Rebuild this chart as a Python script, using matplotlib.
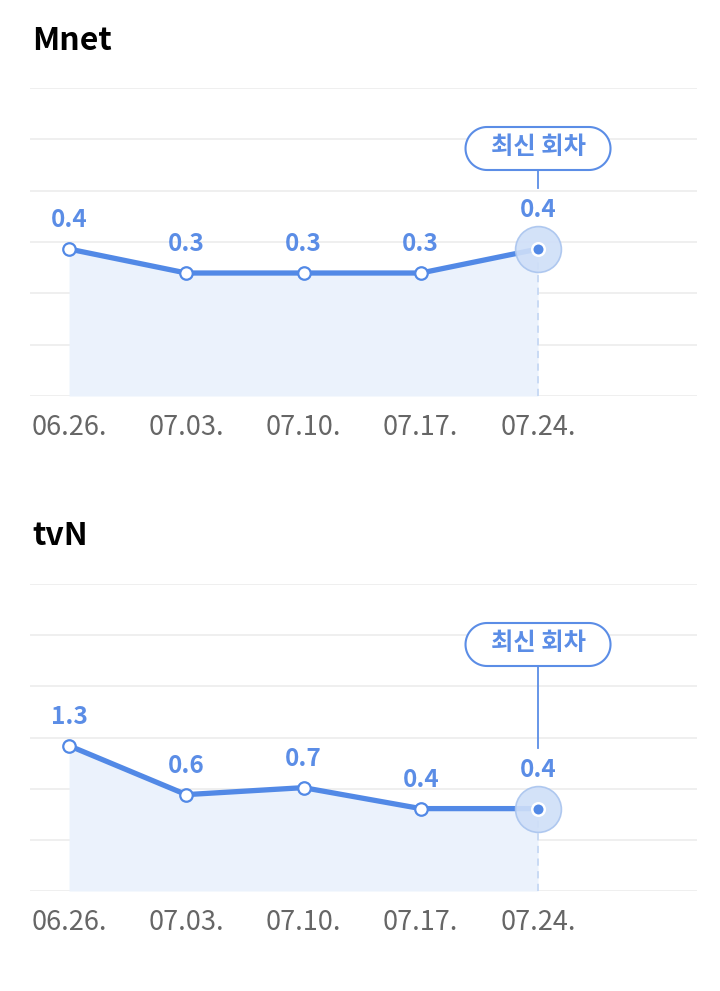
import matplotlib
matplotlib.use("Agg")
import matplotlib.pyplot as plt
import numpy as np
from matplotlib.patches import Polygon
from matplotlib.transforms import blended_transform_factory, IdentityTransform

plt.rcParams['font.family'] = ['Noto Sans CJK KR', 'DejaVu Sans']

# ---- data ----
dates = ["06.26.", "07.03.", "07.10.", "07.17.", "07.24."]
mnet_values = [0.4, 0.3, 0.3, 0.3, 0.4]
tvn_values = [1.3, 0.6, 0.7, 0.4, 0.4]
channels = ["Mnet", "tvN"]
latest_label = "최신 회차"

BLUE = "#5289E6"
LABEL_BLUE = "#5B8DE6"
FILL = "#EBF2FC"
GRID = "#EEEEEE"

W, H = 720, 991
fig = plt.figure(figsize=(W / 100, H / 100), dpi=100)


def px_axes(left, top, right, bottom):
    return fig.add_axes([left / W, 1 - bottom / H, (right - left) / W, (bottom - top) / H])


def pill(cx, cy, w, h):
    r = h / 2
    t1 = np.linspace(-np.pi / 2, np.pi / 2, 40)
    t2 = np.linspace(np.pi / 2, 3 * np.pi / 2, 40)
    right = np.column_stack([cx + w / 2 - r + r * np.cos(t1), cy + r * np.sin(t1)])
    left = np.column_stack([cx - w / 2 + r + r * np.cos(t2), cy + r * np.sin(t2)])
    return np.vstack([right, left])


def draw_panel(title, values, ylim, top_px, bottom_px, title_base):
    ax = px_axes(30, top_px, 697, bottom_px)
    x = np.arange(len(values))
    ax.set_xlim(-0.333, 5.356)
    ax.set_ylim(*ylim)
    ax.set_yticks(np.linspace(ylim[0], ylim[1], 7))
    ax.set_yticklabels([])
    ax.tick_params(axis='y', length=0)
    ax.grid(axis='y', color=GRID, linewidth=1.3, zorder=0)
    ax.set_axisbelow(True)
    for s in ax.spines.values():
        s.set_visible(False)
    ax.set_xticks(x)
    ax.set_xticklabels(dates, fontsize=19.5, color="#666666")
    ax.tick_params(axis='x', length=0, pad=13)

    ax.fill_between(x, values, ylim[0], color=FILL, linewidth=0, zorder=1)
    ax.plot(x, values, color=BLUE, linewidth=3.8, zorder=3, solid_capstyle='round')
    ax.plot(x[:-1], values[:-1], linestyle='none', marker='o', markersize=9,
            markerfacecolor='white', markeredgecolor=BLUE, markeredgewidth=1.6, zorder=4)

    # last point: dashed drop line, halo, inner dot
    ax.plot([x[-1], x[-1]], [ylim[0], values[-1]], color="#C6D8F4", linewidth=1.3,
            linestyle=(0, (4, 3)), zorder=2)
    ax.plot([x[-1]], [values[-1]], marker='o', markersize=33, linestyle='none',
            markerfacecolor="#CFDFF8", markeredgecolor="#A9C4EE", markeredgewidth=1.2,
            alpha=0.9, zorder=5)
    ax.plot([x[-1]], [values[-1]], marker='o', markersize=9, linestyle='none',
            markerfacecolor=BLUE, markeredgecolor='white', markeredgewidth=1.8, zorder=6)

    # value labels
    for i, v in enumerate(values):
        off = 39 if i == len(values) - 1 else 29
        ax.annotate(f"{v:.1f}", (x[i], v), xytext=(0, off), textcoords='offset pixels',
                    ha='center', va='center', fontsize=17.5, fontweight='bold',
                    color=LABEL_BLUE, zorder=7)

    # latest-episode bubble and connector (pixel geometry)
    px_last = ax.transData.transform((x[-1], values[-1]))
    cx = px_last[0]
    cy = H - (top_px + 60.5)
    bw, bh = 145, 43
    box = Polygon(pill(cx, cy, bw, bh), closed=True, transform=IdentityTransform(),
                  facecolor='white', edgecolor=LABEL_BLUE, linewidth=1.5, zorder=8)
    fig.add_artist(box)
    fig.text(cx / W, (cy + 1) / H, latest_label, ha='center', va='center',
             fontsize=17.5, fontweight='bold', color=LABEL_BLUE, zorder=9)
    trans = blended_transform_factory(ax.transData, ax.transAxes)
    bub_bottom = ax.transAxes.inverted().transform((cx, cy - bh / 2))[1]
    end_y = ax.transAxes.inverted().transform((cx, px_last[1] + 61))[1]
    ax.plot([x[-1], x[-1]], [bub_bottom, end_y], transform=trans, color=LABEL_BLUE,
            linewidth=1.3, zorder=7)

    fig.text(32 / W, 1 - title_base / H, title, fontsize=23, fontweight='bold',
             color='black', ha='left', va='baseline')
    return ax


draw_panel(channels[0], mnet_values, (-0.2125, 1.071), 88, 396, 50)
draw_panel(channels[1], tvn_values, (-0.779, 3.614), 584, 891, 545)

fig.savefig("out.png", dpi=100, facecolor='white')
